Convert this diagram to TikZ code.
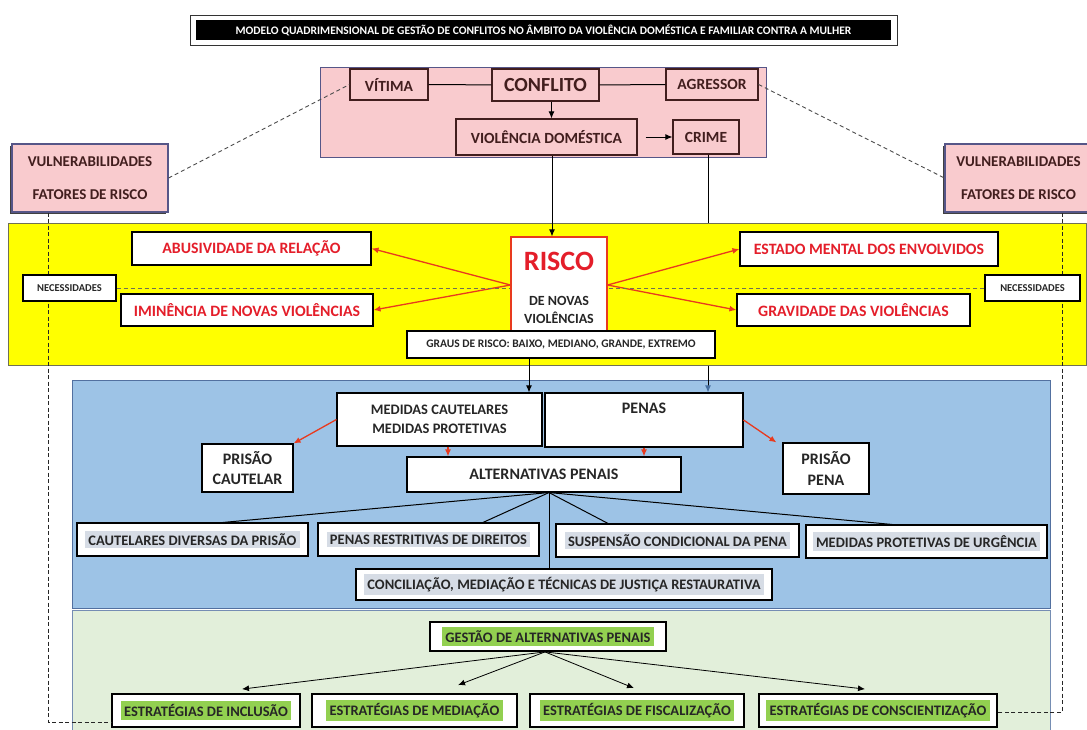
\documentclass[tikz,border=0pt]{standalone}
\usepackage{fontspec}
\setmainfont{Carlito}
\usetikzlibrary{arrows.meta,positioning,calc,shadows}
\definecolor{rosa}{RGB}{249,203,206}
\definecolor{marrom}{RGB}{66,30,30}
\definecolor{roxo}{RGB}{86,86,136}
\definecolor{amarelo}{RGB}{255,255,0}
\definecolor{oliva}{RGB}{112,112,84}
\definecolor{azulclaro}{RGB}{157,195,230}
\definecolor{azulborda}{RGB}{82,112,160}
\definecolor{verdeclaro}{RGB}{226,239,218}
\definecolor{verdehl}{RGB}{146,208,80}
\definecolor{cinzahl}{RGB}{214,220,229}
\definecolor{vermelho}{RGB}{228,30,42}
\definecolor{laranja}{RGB}{232,58,30}
\definecolor{grafite}{RGB}{38,38,38}
\definecolor{acoazul}{RGB}{72,112,160}
\newcommand{\cinza}[1]{{\setlength{\fboxsep}{3pt}\colorbox{cinzahl}{#1}}}
\newcommand{\verdinho}[1]{{\setlength{\fboxsep}{3.5pt}\colorbox{verdehl}{#1}}}
\tikzset{
  faixa/.style={draw,line width=1pt,inner sep=0pt},
  caixa/.style={draw,fill=white,line width=1.1pt,inner sep=0pt,align=center,text=grafite,
    font=\bfseries\fontsize{14.5}{19}\selectfont},
  caixarosa/.style={caixa,fill=rosa,draw=marrom,text=marrom,font=\bfseries\fontsize{15.5}{18}\selectfont},
  vuln/.style={caixarosa,draw=roxo,font=\bfseries\fontsize{15}{33}\selectfont,
    drop shadow={shadow xshift=-2.5pt,shadow yshift=-1.5pt,fill=black!75,opacity=1}},
  caixav/.style={caixa,text=vermelho,font=\bfseries\fontsize{15.8}{18}\selectfont},
  caixac/.style={caixa,font=\bfseries\fontsize{14.5}{16}\selectfont},
  caixag/.style={caixa,line width=1.8pt,text=black!85,font=\bfseries\fontsize{14.5}{16}\selectfont},
  necess/.style={caixa,font=\bfseries\fontsize{10.5}{11}\selectfont},
  seta/.style={-{Latex[length=7pt,width=6pt]},line width=1pt},
  setav/.style={seta,draw=laranja,line width=1.3pt},
  setaaz/.style={-{Latex[length=7pt,width=6pt,color=acoazul]},line width=1pt},
  ligacao/.style={line width=1pt},
  tracejado/.style={dashed,dash pattern=on 4pt off 3pt,line width=0.9pt,draw=black!70},
  tracejado2/.style={dash pattern=on 4pt off 2.5pt,line width=1pt,draw=black!85},
  tracejado3/.style={dash pattern=on 4pt off 3pt,line width=0.9pt,draw=oliva},
}
\begin{document}
\begin{tikzpicture}[x=1pt,y=-1pt]
  \useasboundingbox (0,0) rectangle (1087,729);

  \node[faixa,fill=rosa,draw=roxo,minimum width=446pt,minimum height=90pt] (frosa) at (543,112) {};
  \node[faixa,fill=amarelo,draw=oliva,minimum width=1078pt,minimum height=142pt] (famarela) at (547,294) {};
  \node[faixa,fill=azulclaro,draw=azulborda,minimum width=978pt,minimum height=228pt] (fazul) at (561,494) {};
  \node[faixa,fill=verdeclaro,draw=azulborda!80,minimum width=978pt,minimum height=124pt] (fverde) at (561,672) {};

  \node[draw=black!80,line width=1pt,minimum width=707pt,minimum height=30pt,inner sep=0pt] (moldura) at (543.5,30) {};
  \node[fill=black,text=white,minimum width=695pt,minimum height=20pt,inner sep=0pt,
    font=\bfseries\fontsize{11.5}{13}\selectfont] (titulo) at (moldura.center)
    {MODELO QUADRIMENSIONAL DE GESTÃO DE CONFLITOS NO ÂMBITO DA VIOLÊNCIA DOMÉSTICA E FAMILIAR CONTRA A MULHER};

  \node[caixarosa,minimum width=78pt,minimum height=31pt] (vitima) at (389,84.5) {VÍTIMA};
  \node[caixarosa,font=\bfseries\fontsize{20}{22}\selectfont,minimum width=107pt,minimum height=32pt] (conflito) at (545.5,85) {CONFLITO};
  \node[caixarosa,minimum width=92pt,minimum height=31pt] (agressor) at (712,84.5) {AGRESSOR};
  \node[caixarosa,minimum width=181pt,minimum height=36pt] (violencia) at (546.5,137) {VIOLÊNCIA DOMÉSTICA};
  \node[caixarosa,minimum width=66pt,minimum height=34pt] (crime) at (706,137) {CRIME};
  \node[vuln,minimum width=156pt,minimum height=68pt] (vuln1) at (90,178) {VULNERABILIDADES\\FATORES DE RISCO};
  \node[vuln,minimum width=147pt,minimum height=68pt] (vuln2) at (1018.5,178) {VULNERABILIDADES\\FATORES DE RISCO};

  \draw[ligacao] (vitima) -- (conflito);
  \draw[ligacao] (conflito) -- (agressor);
  \draw[seta] ([xshift=6pt]conflito.south) -- ([xshift=6pt]conflito.south |- violencia.north);
  \draw[seta] ([xshift=8pt]violencia.east) -- (crime.west);
  \draw[tracejado] (vuln1.east) -- (vitima.west);
  \draw[tracejado] (agressor.east) -- (vuln2.west);

  \node[caixa,draw=laranja,minimum width=96pt,minimum height=96pt] (risco) at (559,285) {};
  \node[font=\bfseries\fontsize{28}{30}\selectfont,text=vermelho] (riscot) at (559,261) {RISCO};
  \node[font=\bfseries\fontsize{14}{18}\selectfont,text=grafite,align=center] (novas) at (559,310) {DE NOVAS\\VIOLÊNCIAS};
  \node[caixa,font=\bfseries\fontsize{11.5}{13}\selectfont,minimum width=308pt,minimum height=27pt] (graus) at (561,344.5)
    {GRAUS DE RISCO: BAIXO, MEDIANO, GRANDE, EXTREMO};
  \node[caixav,minimum width=239pt,minimum height=33pt] (abus) at (251.5,248.5) {ABUSIVIDADE DA RELAÇÃO};
  \node[caixav,minimum width=252pt,minimum height=32pt] (imin) at (247,310) {IMINÊNCIA DE NOVAS VIOLÊNCIAS};
  \node[caixav,minimum width=258pt,minimum height=34pt] (estado) at (869,249) {ESTADO MENTAL DOS ENVOLVIDOS};
  \node[caixav,minimum width=233pt,minimum height=32pt] (grav) at (853.5,310) {GRAVIDADE DAS VIOLÊNCIAS};

  \draw[seta] ([xshift=5.5pt]violencia.south) -- ([xshift=5.5pt]violencia.south |- risco.north);
  \draw[ligacao] ([xshift=2pt]crime.south) -- ([xshift=2pt]crime.south |- famarela.north);
  \draw[setav] (risco.west) -- (abus.east);
  \draw[setav] (risco.west) -- (imin.east);
  \draw[setav] (risco.east) -- (estado.west);
  \draw[setav] (risco.east) -- (grav.west);

  \node[caixa,minimum width=205pt,minimum height=53pt] (medidas) at (439.5,419.5) {MEDIDAS CAUTELARES\\MEDIDAS PROTETIVAS};
  \node[caixa,minimum width=198pt,minimum height=54pt,
    label={[anchor=north,yshift=-7pt,text=grafite,font=\bfseries\fontsize{16}{18}\selectfont]north:PENAS}] (penas) at (644,420) {};
  \node[caixa,font=\bfseries\fontsize{16}{20}\selectfont,minimum width=91pt,minimum height=48pt] (pcaut) at (247.5,468) {PRISÃO\\CAUTELAR};
  \node[caixa,font=\bfseries\fontsize{16}{21}\selectfont,minimum width=86pt,minimum height=51pt] (ppena) at (826,468.5) {PRISÃO\\PENA};
  \node[caixa,font=\bfseries\fontsize{16}{18}\selectfont,minimum width=274pt,minimum height=35pt] (alt) at (544,474.5) {ALTERNATIVAS PENAIS};
  \node[caixac,minimum width=231pt,minimum height=33pt] (cautdiv) at (192.5,539.5) {\cinza{CAUTELARES DIVERSAS DA PRISÃO}};
  \node[caixac,minimum width=221pt,minimum height=33pt] (penasrd) at (428.5,539.5) {\cinza{PENAS RESTRITIVAS DE DIREITOS}};
  \node[caixac,minimum width=243pt,minimum height=33pt] (suspensao) at (677.5,540.5) {\cinza{SUSPENSÃO CONDICIONAL DA PENA}};
  \node[caixac,minimum width=241pt,minimum height=33pt] (urgencia) at (926.5,541.5) {\cinza{MEDIDAS PROTETIVAS DE URGÊNCIA}};
  \node[caixac,minimum width=416pt,minimum height=31pt] (concilia) at (564,584.5) {\cinza{CONCILIAÇÃO, MEDIAÇÃO E TÉCNICAS DE JUSTIÇA RESTAURATIVA}};

  \draw[seta] ([xshift=-32pt]graus.south) -- ([xshift=-32pt]graus.south |- medidas.north);
  \draw[setaaz] ([xshift=2pt]crime.south |- famarela.south) -- ([xshift=2pt]crime.south |- penas.north);
  \draw[setav] (medidas.west) -- (pcaut.north east);
  \draw[setav] ([xshift=8.5pt]medidas.south) -- ([xshift=8.5pt]medidas.south |- alt.north);
  \draw[setav] (penas.south) -- (penas.south |- alt.north);
  \draw[setav] (penas.east) -- ([xshift=-6pt]ppena.north west);
  \coordinate (leque) at ([xshift=5pt]alt.south);
  \draw[ligacao] (leque) -- ([xshift=30.5pt]cautdiv.north);
  \draw[ligacao] (leque) -- ([xshift=54.5pt]penasrd.north);
  \draw[ligacao] (leque) -- ([xshift=-69.5pt]suspensao.north);
  \draw[ligacao] (leque) -- ([xshift=-34.5pt]urgencia.north);
  \draw[ligacao] (leque) -- (leque |- concilia.north);

  \node[caixag,minimum width=236pt,minimum height=29pt] (gestao) at (548,636.5) {\verdinho{GESTÃO DE ALTERNATIVAS PENAIS}};
  \node[caixag,minimum width=188pt,minimum height=33pt] (inclusao) at (206,710.5) {\verdinho{ESTRATÉGIAS DE INCLUSÃO}};
  \node[caixag,minimum width=205pt,minimum height=33pt] (mediacao) at (414.5,710.5) {\verdinho{ESTRATÉGIAS DE MEDIAÇÃO}};
  \node[caixag,minimum width=214pt,minimum height=33pt] (fiscal) at (637,710.5) {\verdinho{ESTRATÉGIAS DE FISCALIZAÇÃO}};
  \node[caixag,minimum width=238pt,minimum height=33pt] (conscien) at (878,710.5) {\verdinho{ESTRATÉGIAS DE CONSCIENTIZAÇÃO}};

  \coordinate (gp) at ([xshift=-3pt]gestao.south);
  \draw[seta,line width=0.8pt] (gp) -- ([xshift=36pt,yshift=4pt]inclusao.north);
  \draw[seta,line width=0.8pt] (gp) -- ([xshift=43.5pt,yshift=8pt]mediacao.north);
  \draw[seta,line width=0.8pt] (gp) -- ([xshift=-3pt,yshift=5pt]fiscal.north);
  \draw[seta,line width=0.8pt] (gp) -- ([xshift=-13pt,yshift=4pt]conscien.north);

  \draw[tracejado2] ([xshift=-42pt]vuln1.south) |- ([yshift=-11.5pt]inclusao.west);
  \draw[tracejado2] ([xshift=43.5pt]vuln2.south) |- ([yshift=-1.5pt]conscien.east);

  \node[necess,minimum width=93pt,minimum height=26pt] (necess1) at (69.5,288) {NECESSIDADES};
  \node[necess,minimum width=95pt,minimum height=26pt] (necess2) at (1032.5,288) {NECESSIDADES};
  \draw[tracejado3] (necess1.east) -- (necess1.east -| risco.west);
  \draw[tracejado3] (necess2.west) -- (necess2.west -| risco.east);
\end{tikzpicture}
\end{document}
